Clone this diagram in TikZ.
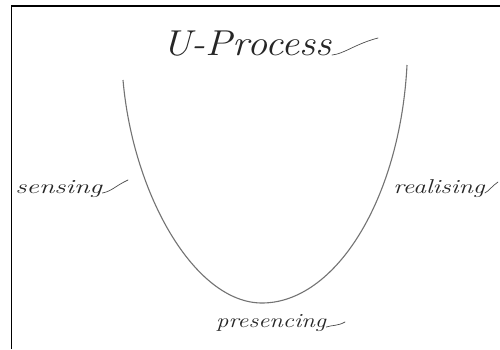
\documentclass[tikz,border=0pt]{standalone}
\usepackage{fontspec}
\begin{document}
\begin{tikzpicture}[x=1pt,y=-1pt,
  hand/.style={font=\itshape\fontsize{20}{22}\selectfont, text=black!85, inner sep=0pt, anchor=base west},
  ucurve/.style={draw=black!55, line width=1.1pt},
  tail/.style={draw=black!70, line width=0.7pt, line cap=round},
  frameline/.style={draw=black, line width=1.4pt}]
\useasboundingbox (0,0) rectangle (500,349);
\fill[white] (0,0) rectangle (500,349);
% frame (clipped at right and bottom)
\draw[frameline] (11.5,349) -- (11.5,6) -- (500,6);
% U curve
\coordinate (ltop) at (123,80);
\coordinate (ubot) at (262,303);
\coordinate (rtop) at (407,65);
\draw[ucurve] (ltop) .. controls (133,195) and (195,303) .. (ubot)
  .. controls (335,303) and (400,200) .. (rtop);
% labels
\node[hand, font=\itshape\fontsize{36}{40}\selectfont, xscale=1.12] (title) at (162,55) {U-Process};
\coordinate (t1) at (378,38);
\draw[tail] (title.base east) .. controls +(12,-1) and (355,44) .. (t1);
\node[hand, xscale=1.4] (sens) at (15,193) {sensing};
\coordinate (s1) at (128,180);
\draw[tail] (sens.base east) .. controls +(10,-2) and (115,186) .. (s1);
\node[hand, xscale=1.3] (real) at (393,193) {realising};
\coordinate (r1) at (498,182);
\draw[tail] (real.base east) .. controls +(4,-2) and (492,186) .. (r1);
\node[hand, xscale=1.23] (pres) at (216,327) {presencing};
\coordinate (p1) at (345,322);
\draw[tail] (pres.base east) .. controls +(6,-2) and (338,326) .. (p1);
\end{tikzpicture}
\end{document}
